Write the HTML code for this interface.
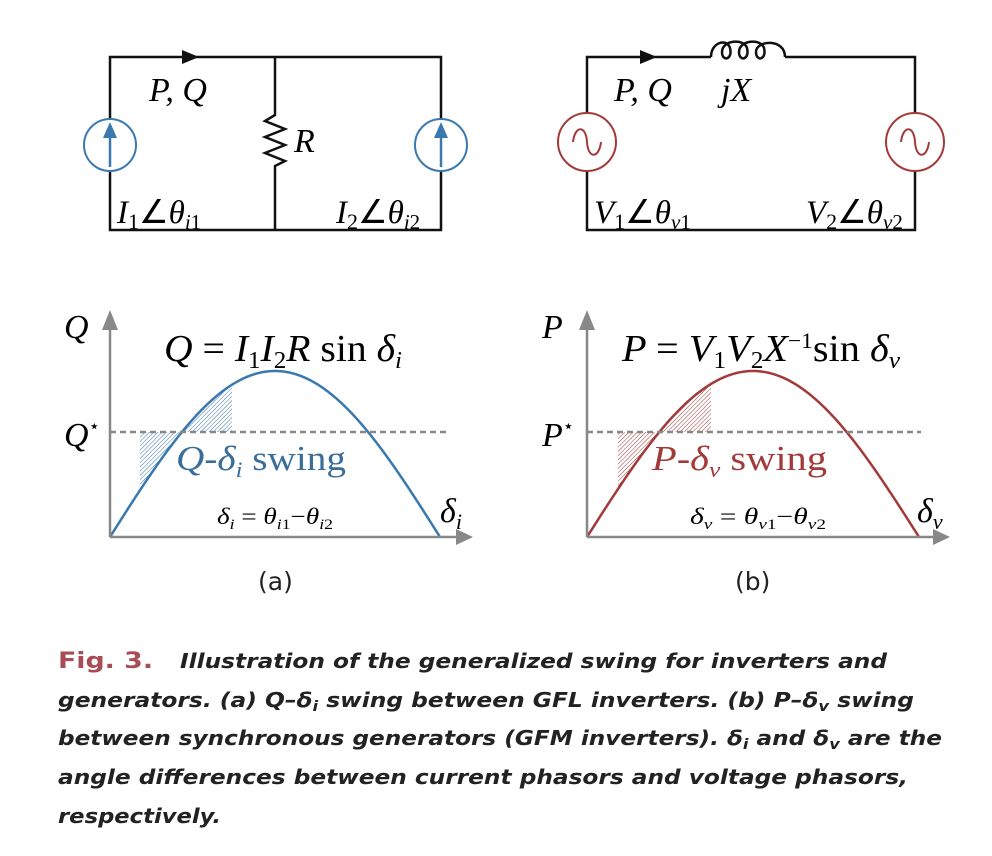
<!DOCTYPE html>
<html><head><meta charset="utf-8"><style>
html,body{margin:0;padding:0;background:#fff;}
svg{display:block;}
.m{font-family:"Liberation Serif",serif;font-style:italic;}
.r{font-family:"Liberation Serif",serif;}
.cap{font-family:"DejaVu Sans",sans-serif;font-weight:bold;font-style:italic;font-size:20px;fill:#222;}
</style></head><body>
<svg id="s" width="992" height="856" viewBox="0 0 992 856" xmlns="http://www.w3.org/2000/svg">
<defs>
<pattern id="hb" width="3" height="3" patternUnits="userSpaceOnUse" patternTransform="rotate(45)">
<line x1="0" y1="0" x2="0" y2="3" stroke="#3f78a8" stroke-width="1"/></pattern>
<pattern id="hr" width="3" height="3" patternUnits="userSpaceOnUse" patternTransform="rotate(45)">
<line x1="0" y1="0" x2="0" y2="3" stroke="#a33a3a" stroke-width="1"/></pattern>
</defs>
<!-- left circuit -->
<g stroke="#111" stroke-width="2.5" fill="none">
<path d="M110 57 H441 V230 H110 Z"/>
<path d="M275 57 V115 l-10 6 l20 8 l-20 8 l20 8 l-20 8 l20 8 l-10 5 V230"/>
</g>
<path d="M182 50 L199 57 L182 64 Z" fill="#111"/>
<circle cx="110" cy="145" r="26" fill="#fff" stroke="#3a78b0" stroke-width="2"/>
<circle cx="441" cy="145" r="26" fill="#fff" stroke="#3a78b0" stroke-width="2"/>
<g stroke="#3a78b0" stroke-width="2.5"><line x1="110" y1="167" x2="110" y2="135"/><line x1="441" y1="167" x2="441" y2="135"/></g>
<path d="M103 138 L110 122 L117 138 Z M434 138 L441 122 L448 138 Z" fill="#3a78b0"/>
<text x="149" y="101" class="m" font-size="34">P, Q</text>
<text x="294" y="152" class="m" font-size="34">R</text>
<text x="117" y="223" class="m" font-size="33">I<tspan font-size="22" dy="6" font-style="normal">1</tspan><tspan dy="-6" font-style="normal">∠</tspan>θ<tspan font-size="21" dy="6">i</tspan><tspan font-size="21" font-style="normal">1</tspan></text>
<text x="336" y="223" class="m" font-size="33">I<tspan font-size="22" dy="6" font-style="normal">2</tspan><tspan dy="-6" font-style="normal">∠</tspan>θ<tspan font-size="21" dy="6">i</tspan><tspan font-size="21" font-style="normal">2</tspan></text>
<!-- right circuit -->
<g stroke="#111" stroke-width="2.5" fill="none">
<path d="M711 57 H587 V230 H915 V57 H785"/>
<path d="M711 57 C711 42 727 38 730 48 C733 60 722 62 722 52 C722 40 744 38 747 48 C750 60 739 62 739 52 C739 40 761 38 764 48 C767 60 756 62 756 52 C756 40 785 38 785 57"/>
</g>
<path d="M640 50 L657 57 L640 64 Z" fill="#111"/>
<circle cx="587" cy="142" r="29" fill="#fff" stroke="#a33a3a" stroke-width="2"/>
<circle cx="915" cy="142" r="29" fill="#fff" stroke="#a33a3a" stroke-width="2"/>
<path d="M573 142 C575 125 586 125 587 142 C588 159 599 159 601 142 M901 142 C903 125 914 125 915 142 C916 159 927 159 929 142" stroke="#a33a3a" stroke-width="2" fill="none"/>
<text x="614" y="101" class="m" font-size="34">P, Q</text>
<text x="721" y="101" class="m" font-size="34">jX</text>
<text x="594" y="223" class="m" font-size="33">V<tspan font-size="22" dy="6" font-style="normal">1</tspan><tspan dy="-6" font-style="normal">∠</tspan>θ<tspan font-size="21" dy="6">v</tspan><tspan font-size="21" font-style="normal">1</tspan></text>
<text x="806" y="223" class="m" font-size="33">V<tspan font-size="22" dy="6" font-style="normal">2</tspan><tspan dy="-6" font-style="normal">∠</tspan>θ<tspan font-size="21" dy="6">v</tspan><tspan font-size="21" font-style="normal">2</tspan></text>
<!-- plots -->
<g id="plots"></g>
<g stroke="#888" stroke-width="2.5">
<line x1="110" y1="537" x2="110" y2="325"/><line x1="110" y1="537" x2="458" y2="537"/>
<line x1="587" y1="537" x2="587" y2="325"/><line x1="587" y1="537" x2="935" y2="537"/>
</g>
<path d="M102 330 L110 310 L118 330 Z M456 529 L473 537 L456 545 Z M579 330 L587 310 L595 330 Z M933 529 L950 537 L933 545 Z" fill="#888"/>
<g stroke="#888" stroke-width="2.5" stroke-dasharray="6,4">
<line x1="110" y1="432" x2="446" y2="432"/><line x1="587" y1="432" x2="921" y2="432"/>
</g>
<text x="64" y="338" class="m" font-size="34">Q</text>
<text x="64" y="446" class="m" font-size="34">Q<tspan font-size="18" dy="-14" font-style="normal">⋆</tspan></text>
<text x="164" y="361" class="m" font-size="38" textLength="238" lengthAdjust="spacingAndGlyphs">Q <tspan font-style="normal">=</tspan> I<tspan font-size="24" dy="7" font-style="normal">1</tspan><tspan dy="-7">I</tspan><tspan font-size="24" dy="7" font-style="normal">2</tspan><tspan dy="-7">R </tspan><tspan font-style="normal">sin</tspan> δ<tspan font-size="24" dy="7">i</tspan></text>
<text x="176" y="470" class="m" font-size="35" fill="#3a6e99" textLength="170" lengthAdjust="spacingAndGlyphs">Q<tspan font-style="normal">-</tspan>δ<tspan font-size="22" dy="7">i</tspan><tspan dy="-7" font-style="normal"> swing</tspan></text>
<text x="217" y="524" class="m" font-size="23" textLength="116" lengthAdjust="spacingAndGlyphs">δ<tspan font-size="15" dy="5">i</tspan><tspan dy="-5" font-style="normal"> = </tspan>θ<tspan font-size="15" dy="5">i</tspan><tspan font-size="15" font-style="normal">1</tspan><tspan dy="-5" font-style="normal">−</tspan>θ<tspan font-size="15" dy="5">i</tspan><tspan font-size="15" font-style="normal">2</tspan></text>
<text x="440" y="522" class="m" font-size="34">δ<tspan font-size="22" dy="7">i</tspan></text>
<text x="542" y="338" class="m" font-size="34">P</text>
<text x="542" y="446" class="m" font-size="34">P<tspan font-size="18" dy="-14" font-style="normal">⋆</tspan></text>
<text x="622" y="361" class="m" font-size="38" textLength="278" lengthAdjust="spacingAndGlyphs">P <tspan font-style="normal">=</tspan> V<tspan font-size="24" dy="7" font-style="normal">1</tspan><tspan dy="-7">V</tspan><tspan font-size="24" dy="7" font-style="normal">2</tspan><tspan dy="-7">X</tspan><tspan font-size="22" dy="-13" font-style="normal">−1</tspan><tspan dy="13" font-style="normal">sin</tspan> δ<tspan font-size="24" dy="7">v</tspan></text>
<text x="652" y="470" class="m" font-size="35" fill="#a33a3a" textLength="175" lengthAdjust="spacingAndGlyphs">P<tspan font-style="normal">-</tspan>δ<tspan font-size="22" dy="7">v</tspan><tspan dy="-7" font-style="normal"> swing</tspan></text>
<text x="690" y="524" class="m" font-size="23" textLength="136" lengthAdjust="spacingAndGlyphs">δ<tspan font-size="15" dy="5">v</tspan><tspan dy="-5" font-style="normal"> = </tspan>θ<tspan font-size="15" dy="5">v</tspan><tspan font-size="15" font-style="normal">1</tspan><tspan dy="-5" font-style="normal">−</tspan>θ<tspan font-size="15" dy="5">v</tspan><tspan font-size="15" font-style="normal">2</tspan></text>
<text x="917" y="522" class="m" font-size="34">δ<tspan font-size="22" dy="7">v</tspan></text>
<text x="258" y="590" font-family="DejaVu Sans,sans-serif" font-size="25" fill="#222">(a)</text>
<text x="735" y="590" font-family="DejaVu Sans,sans-serif" font-size="25" fill="#222">(b)</text>
<!-- caption -->
<text x="58" y="668" font-family="DejaVu Sans,sans-serif" font-weight="bold" font-size="22" fill="#a84c55" textLength="95" lengthAdjust="spacingAndGlyphs">Fig. 3.</text>
<text x="180" y="668" class="cap" font-size="21" textLength="707" lengthAdjust="spacingAndGlyphs">Illustration of the generalized swing for inverters and</text>
<text x="58" y="707" class="cap" font-size="21" textLength="856" lengthAdjust="spacingAndGlyphs">generators. (a) Q–δ<tspan font-size="14" dy="4">i</tspan><tspan dy="-4"> swing between GFL inverters. (b)  P–δ</tspan><tspan font-size="14" dy="4">v</tspan><tspan dy="-4"> swing</tspan></text>
<text x="58" y="745" class="cap" font-size="21" textLength="884" lengthAdjust="spacingAndGlyphs">between synchronous generators (GFM inverters). δ<tspan font-size="14" dy="4">i</tspan><tspan dy="-4"> and δ</tspan><tspan font-size="14" dy="4">v</tspan><tspan dy="-4"> are the</tspan></text>
<text x="58" y="784" class="cap" font-size="21" textLength="850" lengthAdjust="spacingAndGlyphs">angle differences between current phasors and voltage phasors,</text>
<text x="58" y="823" class="cap" font-size="21" textLength="163" lengthAdjust="spacingAndGlyphs">respectively.</text>
</svg>
<script>
(function(){
var g=document.getElementById('plots'),NS='http://www.w3.org/2000/svg';
function mk(x0,x1,h,col,pat,a,b){
 function y(x){return 537-h*Math.sin(Math.PI*(x-x0)/(x1-x0));}
 var ang=Math.asin((537-432)/h),xc=x0+ang/Math.PI*(x1-x0);
 var p1='M'+a+' 432 L'+xc+' 432';
 for(var x=xc;x>=a;x-=1)p1+=' L'+x+' '+y(x);
 p1+=' L'+a+' '+y(a)+'Z';
 var p2='M'+xc+' 432';
 for(var x=xc;x<=b;x+=1)p2+=' L'+x+' '+y(x);
 p2+=' L'+b+' '+y(b)+' L'+b+' 432Z';
 [p1,p2].forEach(function(d){var e=document.createElementNS(NS,'path');e.setAttribute('d',d);e.setAttribute('fill','url(#'+pat+')');g.appendChild(e);});
 var c='M'+x0+' 537';for(var x=x0;x<=x1;x+=2)c+=' L'+x+' '+y(x);c+=' L'+x1+' 537';
 var e=document.createElementNS(NS,'path');e.setAttribute('d',c);e.setAttribute('fill','none');e.setAttribute('stroke',col);e.setAttribute('stroke-width','2.5');g.appendChild(e);
}
mk(110,440,166,'#3a78b0','hb',140,232);
mk(587,919,166,'#a33a3a','hr',618,711);
})();
</script>
</body></html>
